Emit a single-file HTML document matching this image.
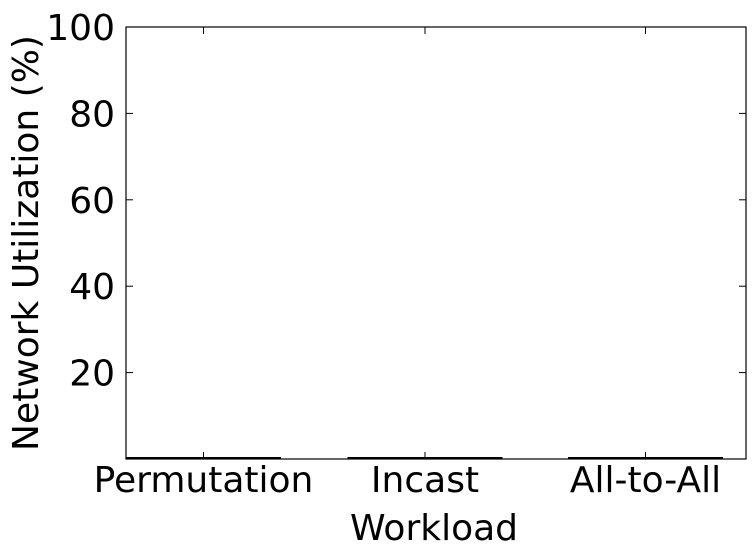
<!DOCTYPE html>
<html><head><meta charset="utf-8"><style>
html,body{margin:0;padding:0;background:#fff;}
svg{display:block;font-family:"DejaVu Sans","Liberation Sans",sans-serif;}
</style></head><body>
<svg id="chart" width="755" height="556"></svg>
<script>
const categories = ["Permutation", "Incast", "All-to-All"];
const values = [0, 0, 0];
const yTicks = [20, 40, 60, 80, 100];

const L = 126, R = 746, T = 27, B = 459;
const yMin = 0, yMax = 100;
function yScale(v){ return B - (v - yMin) / (yMax - yMin) * (B - T); }
const centers = [203.5, 425, 645.5];
function xCenter(i){ return centers[i]; }
const barW = 155;

const svg = document.getElementById('chart');
const NS = 'http://www.w3.org/2000/svg';
function mk(tag, attrs){ const e = document.createElementNS(NS, tag); for (const k in attrs) e.setAttribute(k, attrs[k]); svg.appendChild(e); return e; }

values.forEach((v, i) => {
  const y = yScale(v) - 1;
  const x0 = xCenter(i) - barW/2, x1 = xCenter(i) + barW/2, yb = B - 1;
  const r = mk('path', {d: `M${x0},${yb} L${x0},${y} L${x1},${y} L${x1},${yb} Z`, fill: '#000', stroke: '#000', 'stroke-width': 2});
  
  
});

const f = mk('rect', {x: L, y: T, width: R - L, height: B - T, fill: 'none', stroke: '#000', 'stroke-width': 1.2});



yTicks.forEach(t => {
  const y = yScale(t);
  mk('line', {x1: L, x2: L + 7, y1: y, y2: y, stroke: '#000', 'stroke-width': 1});
  mk('line', {x1: R, x2: R - 7, y1: y, y2: y, stroke: '#000', 'stroke-width': 1});
  const tx = mk('text', {x: L - 11, y: y + 13, 'text-anchor': 'end', 'font-size': 36, fill: '#000'});
  tx.textContent = t;
  
  
});

categories.forEach((c, i) => {
  const x = xCenter(i);
  mk('line', {x1: x, x2: x, y1: B, y2: B - 7, stroke: '#000', 'stroke-width': 1});
  mk('line', {x1: x, x2: x, y1: T, y2: T + 7, stroke: '#000', 'stroke-width': 1});
  const tx = mk('text', {x: x, y: 492, 'text-anchor': 'middle', 'font-size': 36, fill: '#000'});
  tx.textContent = c;
  
  
});

const xt = mk('text', {x: 434, y: 540, 'text-anchor': 'middle', 'font-size': 36, fill: '#000'});
xt.textContent = 'Workload';



const yt = mk('text', {x: 0, y: 0, 'text-anchor': 'middle', 'font-size': 36, fill: '#000', transform: 'translate(38,243) rotate(-90)'});
yt.textContent = 'Network Utilization (%)';


</script>
</body></html>
